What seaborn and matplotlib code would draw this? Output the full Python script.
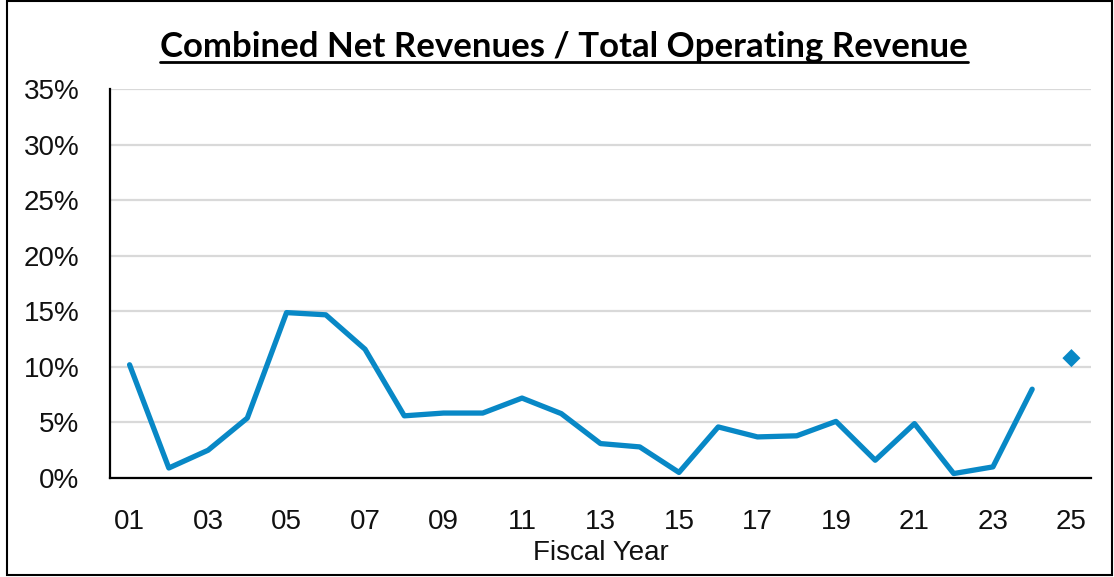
import matplotlib
matplotlib.use("Agg")
import matplotlib.pyplot as plt
import matplotlib.ticker as mtick
from matplotlib.patches import Rectangle
import seaborn as sns
import pandas as pd

# data (percent)
years = ["01", "02", "03", "04", "05", "06", "07", "08", "09", "10", "11", "12",
         "13", "14", "15", "16", "17", "18", "19", "20", "21", "22", "23", "24"]
ratio = [10.2, 0.9, 2.5, 5.4, 14.9, 14.7, 11.6, 5.6, 5.85, 5.85, 7.2, 5.8,
         3.1, 2.8, 0.5, 4.6, 3.7, 3.8, 5.1, 1.6, 4.9, 0.4, 1.0, 8.0]
est_year = ["25"]
est_ratio = [10.8]

all_years = years + est_year
blue = "#0888C6"

df = pd.DataFrame({"pos": range(len(years)), "ratio": ratio})
df_est = pd.DataFrame({"pos": [len(years)], "ratio": est_ratio})

sns.set_style("white")
plt.rcParams["font.family"] = ["Liberation Sans", "DejaVu Sans"]

fig = plt.figure(figsize=(11.14, 5.77), dpi=100)
ax = fig.add_axes([0.0987, 0.1716, 0.8807, 0.6733])

sns.lineplot(data=df, x="pos", y="ratio", ax=ax, color=blue, linewidth=3.8)
sns.scatterplot(data=df_est, x="pos", y="ratio", ax=ax, color=blue, marker="D",
                s=85, edgecolor="none")

ax.set_xlim(-0.5, len(all_years) - 0.5)
ax.set_ylim(0, 35)
ax.set_yticks(range(0, 36, 5))
ax.yaxis.set_major_formatter(mtick.FuncFormatter(lambda v, p: f"{v:.0f}%"))
ax.set_xticks(range(0, len(all_years), 2))
ax.set_xticklabels(all_years[::2])
ax.tick_params(axis="both", labelsize=20, length=0, colors="#111111")
ax.tick_params(axis="y", pad=22)
ax.tick_params(axis="x", pad=22)

ax.grid(axis="y", color="#d9d9d9", linewidth=1.6)
ax.set_axisbelow(True)
for s in ["top", "right"]:
    ax.spines[s].set_visible(False)
for s in ["left", "bottom"]:
    ax.spines[s].set_color("black")
    ax.spines[s].set_linewidth(1.6)

ax.set_xlabel("Fiscal Year", fontsize=20, labelpad=4, color="#111111")
ax.set_ylabel("")

fig.text(0.506, 1 - 57 / 577, "Combined Net Revenues / Total Operating Revenue",
         ha="center", va="baseline", fontsize=25, fontweight="bold",
         color="black", family=["Lato", "DejaVu Sans"])
# underline of title
fig.add_artist(plt.Line2D([160 / 1114, 968 / 1114], [1 - 62 / 577, 1 - 62 / 577],
                          color="black", linewidth=2))

fig.add_artist(Rectangle((7 / 1114, 2 / 577), 1105 / 1114, 574 / 577,
                         fill=False, edgecolor="black", linewidth=1.5))

fig.savefig("out.png", dpi=100)
